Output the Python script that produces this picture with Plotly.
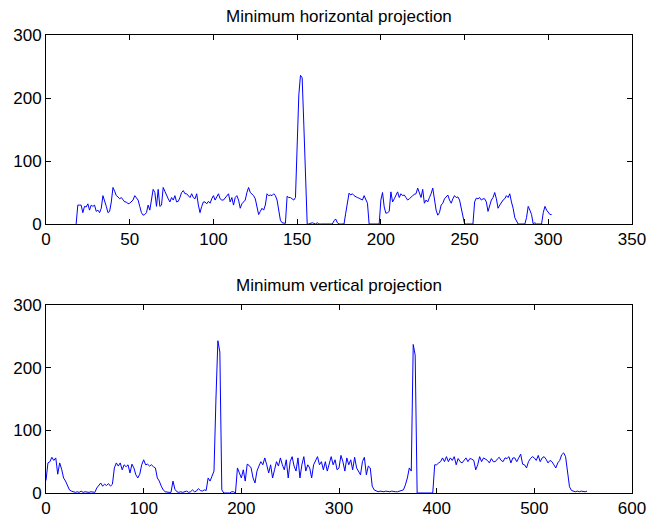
import plotly.graph_objects as go

# ---- Data: minimum horizontal projection (x = 18, 19, ..., step 1) ----
h_start = 18
h_values = [
    0, 30, 30, 30, 18, 28, 27, 32, 22, 30,
    28, 30, 20, 22, 18, 25, 45, 38, 28, 18,
    20, 35, 58, 52, 45, 43, 40, 42, 38, 35,
    35, 32, 33, 35, 38, 45, 42, 38, 28, 18,
    14, 15, 18, 30, 22, 38, 55, 50, 28, 55,
    28, 30, 58, 52, 45, 40, 35, 42, 38, 45,
    35, 36, 42, 50, 53, 48, 48, 45, 42, 48,
    42, 40, 48, 30, 18, 28, 35, 35, 32, 36,
    33, 40, 45, 38, 42, 48, 40, 38, 38, 42,
    45, 48, 35, 42, 30, 42, 45, 38, 25, 32,
    35, 38, 50, 58, 50, 48, 45, 40, 25, 15,
    20, 25, 22, 30, 48, 45, 46, 45, 48, 45,
    38, 22, 6, 2, 1, 1, 44, 42, 42, 40,
    38, 42, 109, 205, 236, 232, 157, 62, 0, 0,
    1, 2, 1, 0, 2, 0, 0, 0, 0, 0,
    0, 0, 0, 0, 5, 8, 2, 0, 0, 0,
    0, 17, 30, 49, 46, 48, 45, 43, 42, 41,
    40, 38, 45, 40, 33, 0, 0, 0, 0, 0,
    0, 0, 38, 50, 27, 17, 18, 20, 51, 35,
    40, 45, 51, 42, 48, 45, 46, 42, 38, 40,
    43, 45, 47, 48, 57, 50, 42, 55, 33, 38,
    35, 42, 48, 57, 42, 22, 14, 18, 30, 33,
    40, 44, 46, 38, 33, 40, 45, 42, 43, 38,
    27, 15, 0, 0, 0, 0, 0, 0, 35, 41,
    40, 42, 38, 40, 40, 35, 20, 28, 38, 42,
    50, 40, 25, 30, 35, 38, 40, 45, 42, 48,
    35, 25, 10, 5, 0, 0, 0, 0, 0, 10,
    28, 22, 15, 0, 2, 0, 0, 0, 0, 18,
    28, 22, 18, 15, 15,
]
h_x = list(range(h_start, h_start + len(h_values)))

# ---- Data: minimum vertical projection (x = 0, 2, 4, ...) ----
v_step = 2
v_values = [
    20, 48, 50, 57, 52, 56, 30, 48, 38, 24,
    19, 11, 5, 3, 2, 1, 2, 1, 3, 1,
    2, 1, 1, 2, 1, 1, 8, 13, 16, 11,
    14, 12, 15, 11, 14, 40, 48, 43, 48, 37,
    45, 42, 45, 32, 46, 40, 29, 24, 30, 45,
    53, 45, 46, 43, 45, 42, 40, 24, 19, 11,
    5, 2, 1, 1, 1, 19, 6, 2, 1, 2,
    1, 2, 3, 1, 2, 5, 2, 3, 7, 4,
    3, 5, 4, 24, 19, 27, 35, 150, 243, 225,
    5, 0, 0, 0, 0, 2, 2, 0, 40, 32,
    24, 37, 19, 46, 44, 40, 24, 16, 35, 43,
    50, 45, 56, 45, 32, 45, 24, 37, 50, 43,
    56, 45, 37, 53, 24, 50, 58, 43, 35, 56,
    24, 45, 58, 35, 45, 40, 24, 45, 53, 58,
    45, 50, 37, 50, 35, 45, 58, 45, 53, 37,
    40, 60, 50, 35, 56, 45, 53, 37, 57, 40,
    35, 29, 50, 57, 29, 43, 40, 11, 5, 3,
    2, 3, 2, 2, 3, 2, 2, 3, 2, 2,
    2, 3, 3, 5, 13, 24, 40, 35, 237, 220,
    0, 0, 0, 0, 0, 0, 0, 0, 0, 45,
    45, 48, 50, 56, 50, 58, 50, 56, 52, 58,
    45, 55, 50, 48, 52, 56, 50, 55, 54, 52,
    37, 45, 58, 50, 56, 54, 52, 48, 55, 50,
    50, 54, 57, 52, 50, 56, 55, 58, 48, 56,
    56, 50, 55, 62, 46, 45, 40, 50, 55, 58,
    56, 52, 60, 50, 56, 58, 54, 48, 52, 50,
    45, 40, 48, 52, 61, 64, 58, 30, 10, 4,
    3, 2, 3, 2, 3, 2, 2, 3,
]
v_x = [i * v_step for i in range(len(v_values))]

titles = ["Minimum horizontal projection", "Minimum vertical projection"]
h_xticks = [0, 50, 100, 150, 200, 250, 300, 350]
v_xticks = [0, 100, 200, 300, 400, 500, 600]
yticks = [0, 100, 200, 300]

W, H = 647, 519
ml, mr, mt, mb = 46, 15, 35, 26
ph = H - mt - mb
top_dom = [(493 - 224) / ph, 1.0]
bot_dom = [0.0, (493 - 305) / ph]

line_style = dict(color="#0000ff", width=1)
fig = go.Figure()
fig.add_trace(go.Scatter(x=h_x, y=h_values, mode="lines", line=line_style,
                         xaxis="x", yaxis="y", showlegend=False))
fig.add_trace(go.Scatter(x=v_x, y=v_values, mode="lines", line=line_style,
                         xaxis="x2", yaxis="y2", showlegend=False))

family = "Liberation Sans, Arial, sans-serif"
font = dict(family=family, size=17, color="black")
ax_common = dict(showgrid=False, zeroline=False, showline=True, linecolor="black",
                 linewidth=1, mirror="ticks", ticks="inside", ticklen=5,
                 tickcolor="black", tickfont=font, layer="above traces",
                 automargin=False)

fig.update_layout(
    width=W, height=H,
    margin=dict(l=ml, r=mr, t=mt, b=mb),
    paper_bgcolor="white", plot_bgcolor="white",
    xaxis=dict(ax_common, range=[0, 350], tickvals=h_xticks, anchor="y", domain=[0, 1]),
    yaxis=dict(ax_common, range=[0, 300], tickvals=yticks, anchor="x", domain=top_dom),
    xaxis2=dict(ax_common, range=[0, 600], tickvals=v_xticks, anchor="y2", domain=[0, 1]),
    yaxis2=dict(ax_common, range=[0, 300], tickvals=yticks, anchor="x2", domain=bot_dom),
    annotations=[
        dict(text=titles[0], x=0.5, y=top_dom[1], xref="paper", yref="paper",
             xanchor="center", yanchor="bottom", yshift=7, showarrow=False,
             font=dict(family=family, size=17, color="black")),
        dict(text=titles[1], x=0.5, y=bot_dom[1], xref="paper", yref="paper",
             xanchor="center", yanchor="bottom", yshift=8, showarrow=False,
             font=dict(family=family, size=17, color="black")),
    ],
)

fig.write_html("out.html")
